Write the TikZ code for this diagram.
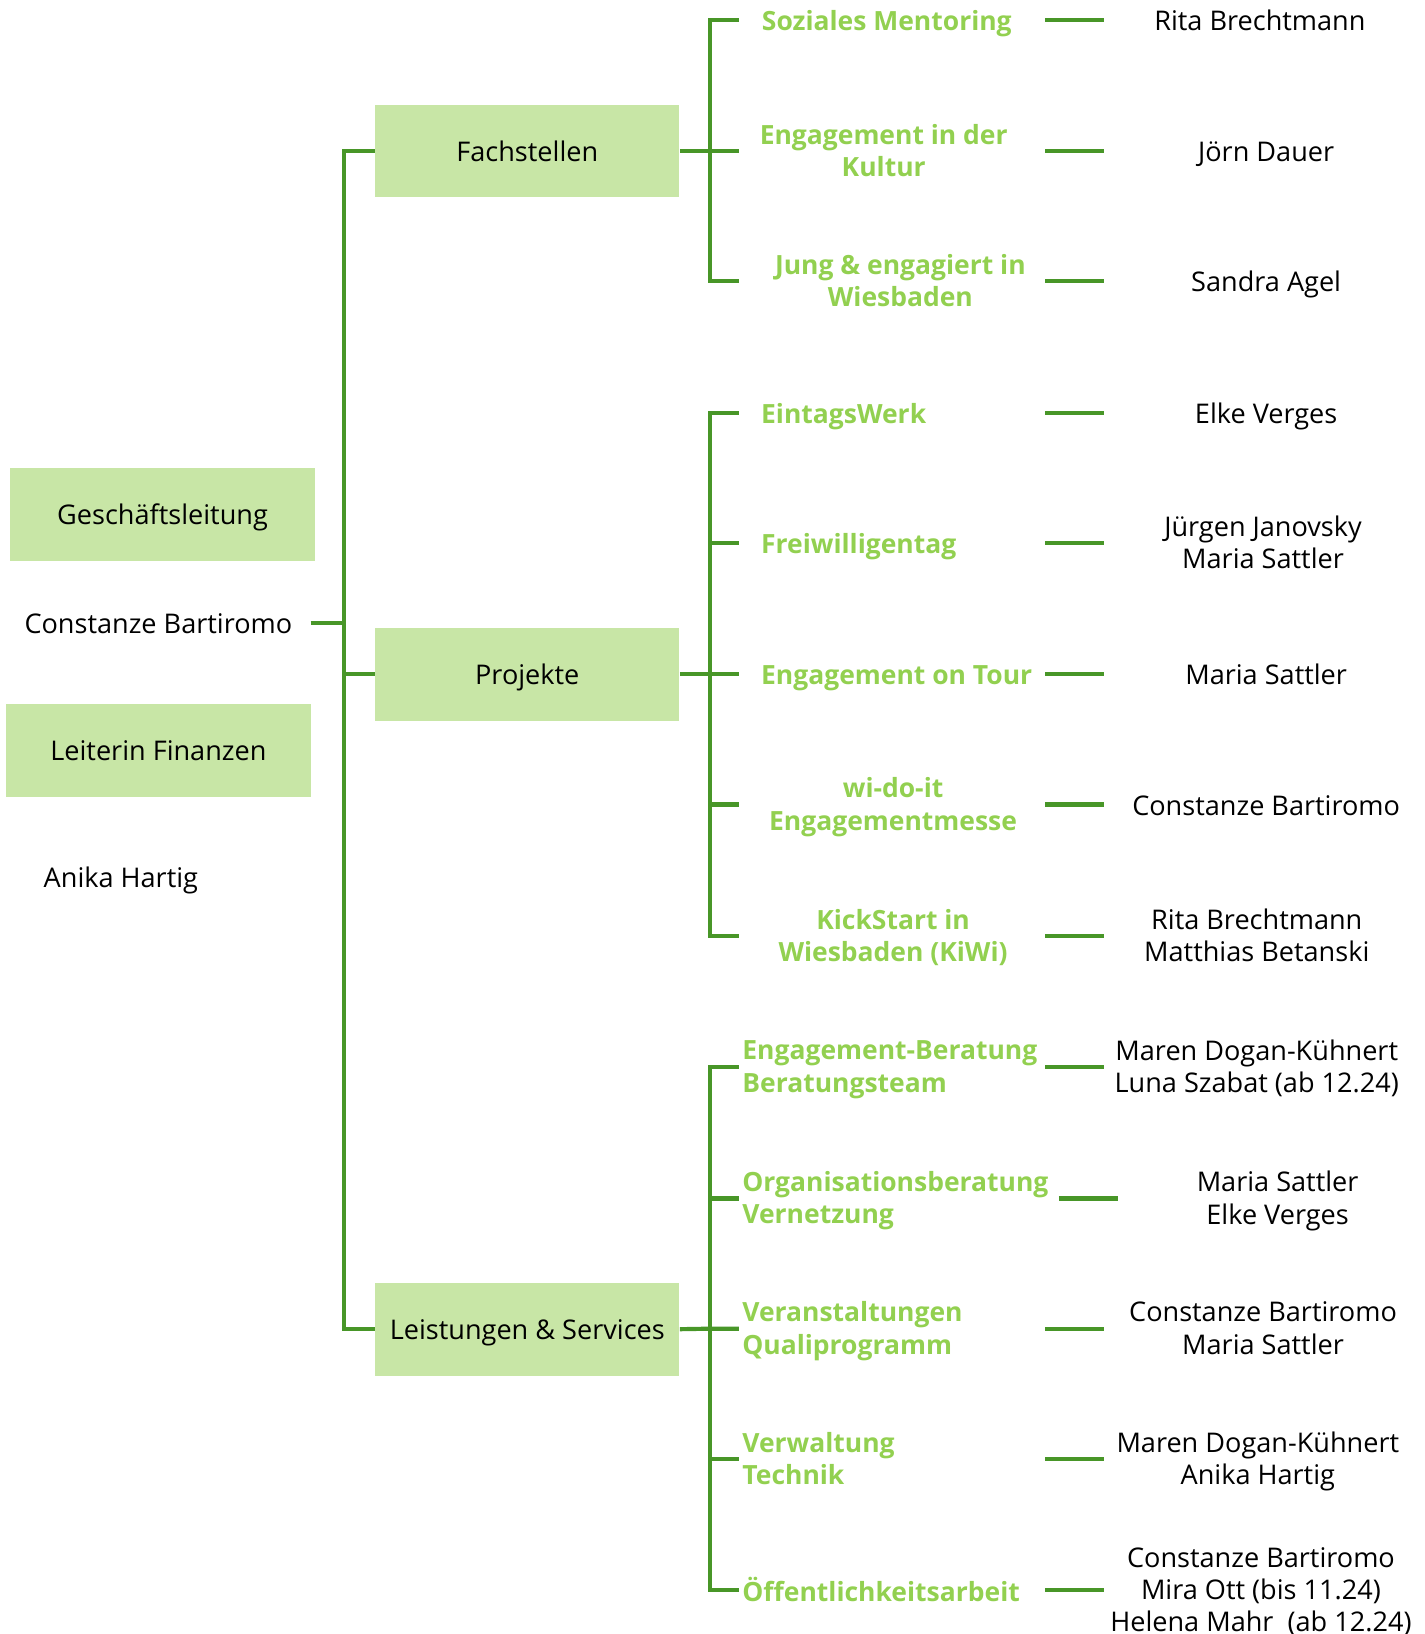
\documentclass[tikz,border=0pt]{standalone}
\usepackage{fontspec}
\setmainfont{Open Sans}
\usepackage{tikz}
\usetikzlibrary{positioning}
\definecolor{linegreen}{RGB}{72,150,40}
\definecolor{boxgreen}{RGB}{200,230,166}
\definecolor{textgreen}{RGB}{146,208,80}
\tikzstyle{every node}=[execute at begin node=\strut,execute at end node=\strut]
\tikzstyle{unit}=[fill=boxgreen,minimum width=146pt,minimum height=44.5pt,inner sep=0pt,text height=11pt,text depth=0.8pt,font=\fontsize{13}{15.5}\selectfont]
\tikzstyle{task}=[text=textgreen,inner sep=0pt,yshift=-2pt,font=\fontsize{12.7}{15.5}\selectfont\bfseries]
\tikzstyle{person}=[inner sep=0pt,align=center,yshift=-2pt,font=\fontsize{13}{15.5}\selectfont]
\tikzstyle{link}=[draw=linegreen,line width=2pt]

\begin{document}
\begin{tikzpicture}[x=0.5pt,y=-0.5pt]
    \useasboundingbox (0,0) rectangle (1367,1568);
    % leitung
    \node[unit](gl) at (156,493.5){Geschäftsleitung};
    \node[person](cb) at (152,598){Constanze Bartiromo};
    \node[unit](lf) at (152,720){Leiterin Finanzen};
    \node[person](ah) at (116,841){Anika Hartig};
    % bereiche
    \node[unit](fa) at (506,145){Fachstellen};
    \node[unit](pr) at (506,647){Projekte};
    \node[unit](ls) at (506,1275.5){Leistungen \& Services};
    % aufgaben
    \node[task](t1) at (851,19){Soziales Mentoring};
    \node[task,align=center](t2) at (848,145){Engagement in der\\Kultur};
    \node[task,align=center](t3) at (864,270){Jung \& engagiert in\\Wiesbaden};
    \node[task,anchor=west](t4) at (730,396){EintagsWerk};
    \node[task,anchor=west](t5) at (730,521){Freiwilligentag};
    \node[task,anchor=west](t6) at (730,647){Engagement on Tour};
    \node[task,align=center](t7) at (857,772){wi-do-it\\Engagementmesse};
    \node[task,align=center](t8) at (857,898){KickStart in\\Wiesbaden (KiWi)};
    \node[task,anchor=west,align=left](t9) at (712,1024){Engagement-Beratung\\Beratungsteam};
    \node[task,anchor=west,align=left](t10) at (712,1150){Organisationsberatung\\Vernetzung};
    \node[task,anchor=west,align=left](t11) at (712,1275){Veranstaltungen\\Qualiprogramm};
    \node[task,anchor=west,align=left](t12) at (712,1400){Verwaltung\\Technik};
    \node[task,anchor=west](t13) at (712,1526){Öffentlichkeitsarbeit};
    % personen
    \node[person](p1) at (1209,19){Rita Brechtmann};
    \node[person](p2) at (1215,145){Jörn Dauer};
    \node[person](p3) at (1215,270){Sandra Agel};
    \node[person](p4) at (1215,396){Elke Verges};
    \node[person](p5) at (1212,521){Jürgen Janovsky\\Maria Sattler};
    \node[person](p6) at (1215,647){Maria Sattler};
    \node[person](p7) at (1215,772){Constanze Bartiromo};
    \node[person](p8) at (1206,898){Rita Brechtmann\\Matthias Betanski};
    \node[person](p9) at (1206,1024){Maren Dogan-Kühnert\\Luna Szabat (ab 12.24)};
    \node[person](p10) at (1226,1150){Maria Sattler\\Elke Verges};
    \node[person](p11) at (1212,1275){Constanze Bartiromo\\Maria Sattler};
    \node[person](p12) at (1207,1400){Maren Dogan-Kühnert\\Anika Hartig};
    \node[person](p13) at (1210,1526){Constanze Bartiromo\\Mira Ott (bis 11.24)\\Helena Mahr~ (ab 12.24)};
    % knoten
    \coordinate (c0) at (298,598);
    \coordinate (j0) at (330,598);
    \coordinate (j1) at (681,145);
    \coordinate (j2) at (681,647);
    \coordinate (j3) at (681,1275);
    \coordinate (b1) at (709,19);
    \coordinate (b3) at (709,270);
    \coordinate (b4) at (709,396);
    \coordinate (b5) at (709,521);
    \coordinate (b7) at (709,772);
    \coordinate (b8) at (709,898);
    \coordinate (b9) at (709,1024);
    \coordinate (b10) at (709,1150);
    \coordinate (b12) at (709,1400);
    \coordinate (b13) at (709,1526);
    % linien
    \draw[link] (c0) -- (j0);
    \draw[link] (fa.west) -| (j0) |- (ls.west);
    \draw[link] (pr.west) -- (pr.west -| j0);
    \draw[link] (fa.east) -- (j1) -- ++(28,0);
    \draw[link] (b1) -| (j1) |- (b3);
    \draw[link] (pr.east) -- (j2) -- ++(28,0);
    \draw[link] (b4) -| (j2) |- (b8);
    \draw[link] (b5) -- (b5 -| j2);
    \draw[link] (b7) -- (b7 -| j2);
    \draw[link] (ls.east) -- (j3) -- ++(28,0);
    \draw[link] (b9) -| (j3) |- (b13);
    \draw[link] (b10) -- (b10 -| j3);
    \draw[link] (b12) -- (b12 -| j3);
    \foreach \y in {19,145,270,396,521,647,772,898,1024,1275,1400,1526}
        \draw[link] (1003,\y) -- (1059,\y);
    \draw[link] (1016,1150) -- (1073,1150);
\end{tikzpicture}
\end{document}
